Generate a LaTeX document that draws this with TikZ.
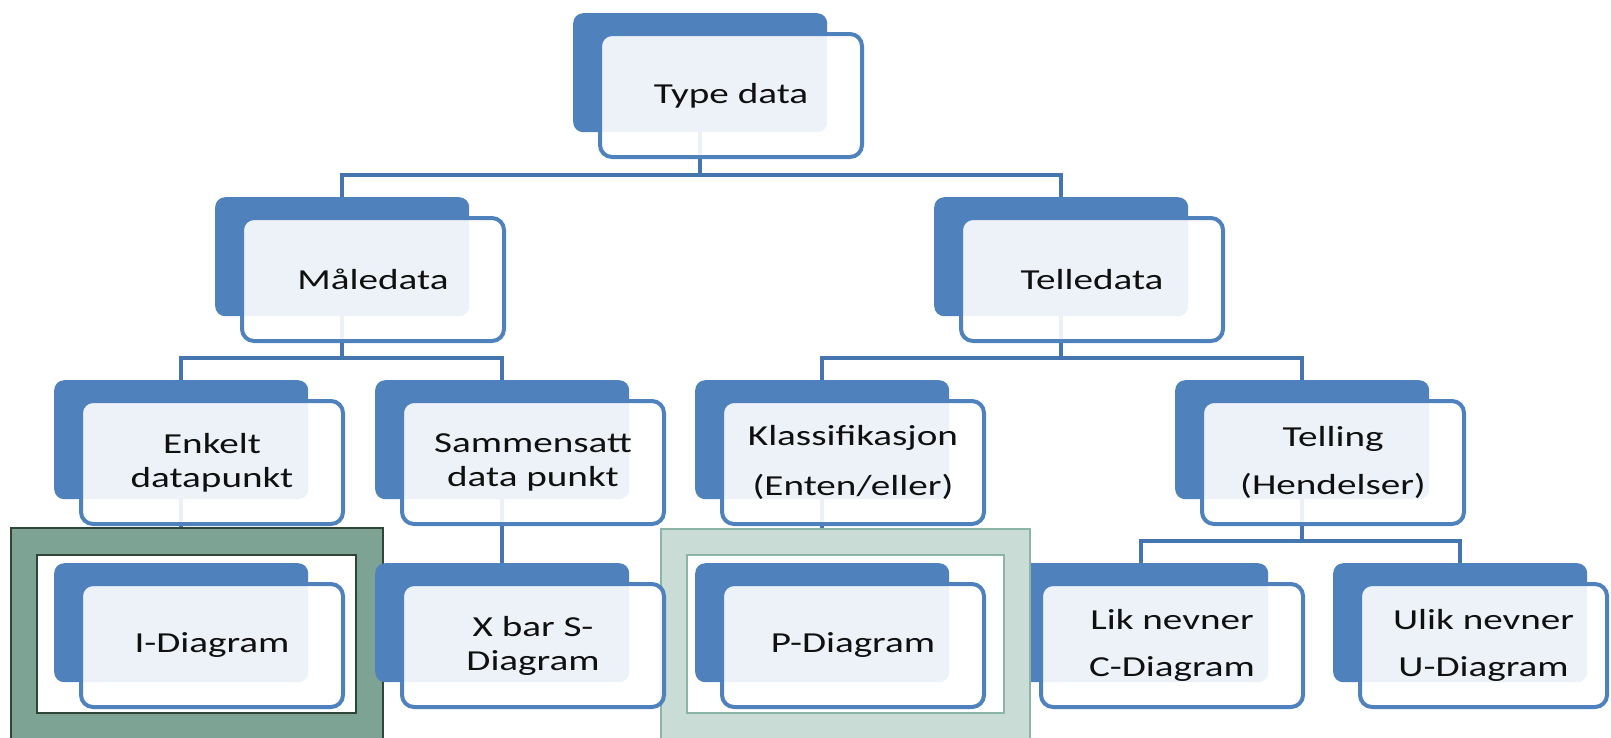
\documentclass[tikz,border=0pt]{standalone}
\usepackage{fontspec}
\setmainfont{Carlito}[FakeStretch=1.35]
\definecolor{nblue}{HTML}{4F81BD}
\definecolor{cblue}{HTML}{4475AE}
\definecolor{txt}{HTML}{101010}
\definecolor{gfill}{HTML}{7DA395}
\definecolor{gdark}{HTML}{2F4538}
\definecolor{lgfill}{HTML}{C9DCD5}
\definecolor{lgline}{HTML}{8DB5A5}
\pgfdeclarelayer{bg}
\pgfdeclarelayer{mid}
\pgfsetlayers{bg,mid,main}
\newcommand{\dnode}[6][262]{%
  \node[backbox] (#2B) at (#3,#4) {};
  \node[frontbox, minimum width=#1pt, font=\fontsize{29}{#6}\selectfont] (#2F) at (#3+25,#4+19) {#5};
}
\begin{document}
\begin{tikzpicture}[x=1pt,y=-1pt,
  backbox/.style={rectangle, rounded corners=10pt, fill=nblue, draw=none,
    minimum width=254pt, minimum height=119pt, anchor=north west, inner sep=0pt},
  frontbox/.style={rectangle, rounded corners=12pt, draw=nblue, line width=4pt,
    fill=white, fill opacity=0.9, draw opacity=1, text opacity=1,
    minimum height=123pt, anchor=north west, align=center, text=txt, inner sep=0pt},
  conn/.style={draw=cblue, line width=4.5pt},
  outerframe/.style={draw=gdark, line width=2pt, fill=gfill},
  innerframe/.style={draw=gdark, line width=2pt, fill=white},
  louterframe/.style={draw=lgline, line width=1.5pt, fill=lgfill},
  linnerframe/.style={draw=lgline, line width=1.5pt, fill=white}]
\useasboundingbox (0,0) rectangle (1611,737);

\dnode{td}{573}{13}{Type data}{34}
\dnode{ma}{215}{197}{Måledata}{34}
\dnode{te}{934}{197}{Telledata}{34}
\dnode{en}{54}{380}{Enkelt\\datapunkt}{34}
\dnode{sa}{375}{380}{Sammensatt\\data punkt}{34}
\dnode{kl}{695}{380}{Klassifikasjon\\(Enten/eller)}{50}
\dnode{tl}{1175}{380}{Telling\\(Hendelser)}{48}
\dnode{id}{54}{563}{I-Diagram}{34}
\dnode{xb}{375}{563}{X bar S-\\Diagram}{34}
\dnode{pd}{695}{563}{P-Diagram}{34}
\begin{pgfonlayer}{bg}
  \node[backbox] (lkB) at (1014,563) {};
\end{pgfonlayer}
\node[frontbox, minimum width=262pt, font=\fontsize{29}{47}\selectfont] (lkF) at (1039,582) {Lik nevner\\C-Diagram};
\dnode[247]{ul}{1333}{563}{Ulik nevner\\U-Diagram}{47}

\coordinate (busA) at (0,175);
\coordinate (busB) at (0,358);
\coordinate (busC) at (0,541);

\begin{pgfonlayer}{bg}
  \draw[conn] (tdB.south) -- (tdB.south |- busA) -| (maB.north);
  \draw[conn] (tdB.south |- busA) -| (teB.north);
  \draw[conn] (maB.south) -- (maB.south |- busB) -| (enB.north);
  \draw[conn] (maB.south |- busB) -| (saB.north);
  \draw[conn] (teB.south) -- (teB.south |- busB) -| (klB.north);
  \draw[conn] (teB.south |- busB) -| (tlB.north);
  \draw[conn] (enB.south) -- (idB.north);
  \draw[conn] (saB.south) -- (xbB.north);
  \draw[conn] (klB.south) -- (pdB.north);
  \draw[conn] (tlB.south) -- (tlB.south |- busC) -| (lkB.north);
  \draw[conn] (tlB.south |- busC) -| (ulB.north);
\end{pgfonlayer}

\begin{pgfonlayer}{mid}
  \draw[outerframe] (11,528) rectangle (383,745);
  \draw[innerframe] (37,555) rectangle (356,713);
  \draw[louterframe] (661,529) rectangle (1030,745);
  \draw[linnerframe] (687,555) rectangle (1004,713);
\end{pgfonlayer}
\end{tikzpicture}
\end{document}
